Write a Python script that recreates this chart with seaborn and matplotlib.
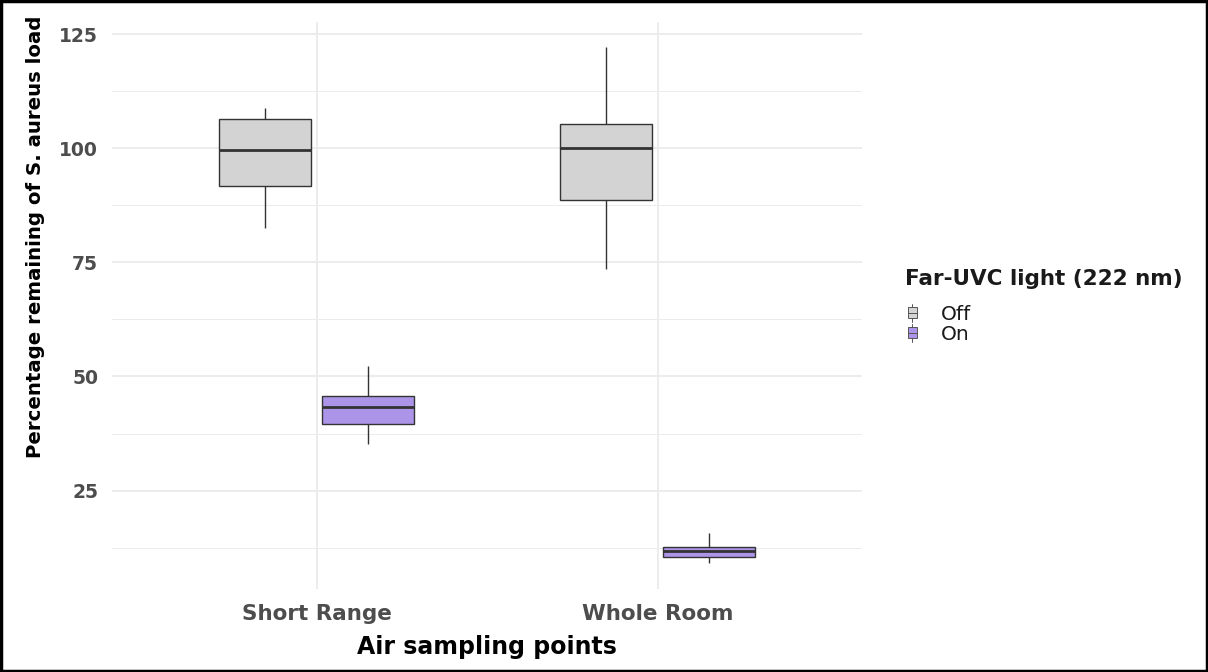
import pandas as pd
import matplotlib
matplotlib.use("Agg")
import matplotlib.pyplot as plt
import seaborn as sns
from matplotlib.legend_handler import HandlerBase
from matplotlib.patches import Rectangle
from matplotlib.lines import Line2D

# ------------------------------------------------------------
# Dados (min, Q1, mediana, Q3, max)
# ------------------------------------------------------------
pontos = ["Short Range", "Whole Room"]
luz = ["Off", "On"]

short_off = [82.5, 91.7, 99.6, 106.5, 108.9]
short_on = [35.3, 39.7, 43.3, 45.7, 52.2]
whole_off = [73.5, 88.6, 100.0, 105.4, 122.1]
whole_on = [9.1, 10.5, 11.7, 12.7, 15.7]

cores = {"Off": "#D3D3D3", "On": "#A687F7"}

linhas = []
for ponto, estado, vals in [
    ("Short Range", "Off", short_off),
    ("Short Range", "On", short_on),
    ("Whole Room", "Off", whole_off),
    ("Whole Room", "On", whole_on),
]:
    for v in vals:
        linhas.append({"ponto": ponto, "luz": estado, "valor": v})
df = pd.DataFrame(linhas)

# ------------------------------------------------------------
# Estilo
# ------------------------------------------------------------
sns.set_theme(style="whitegrid")
plt.rcParams["font.family"] = ["DejaVu Sans"]


class MiniBox(HandlerBase):
    # chave de legenda no estilo ggplot (caixinha com bigodes)
    def create_artists(self, legend, orig_handle, xdescent, ydescent,
                       width, height, fontsize, trans):
        cor = orig_handle.get_facecolor()
        bw = fontsize * 0.45
        x0 = -xdescent + fontsize * 0.08
        cx = x0 + bw / 2
        y0 = -ydescent
        r = Rectangle((x0, y0 + height * 0.2), bw, height * 0.6,
                      facecolor=cor, edgecolor="#555555", linewidth=0.7, transform=trans)
        med = Line2D([x0, x0 + bw], [y0 + height / 2] * 2,
                     color="#555555", linewidth=0.7, transform=trans)
        w1 = Line2D([cx, cx], [y0, y0 + height * 0.2],
                    color="#555555", linewidth=0.7, transform=trans)
        w2 = Line2D([cx, cx], [y0 + height * 0.8, y0 + height],
                    color="#555555", linewidth=0.7, transform=trans)
        return [r, med, w1, w2]


fig = plt.figure(figsize=(12.08, 6.72), dpi=100)
ax = fig.add_axes([0.0927, 0.1235, 0.621, 0.8445])

sns.boxplot(
    data=df, x="ponto", y="valor", hue="luz",
    order=pontos, hue_order=luz, palette=cores,
    width=0.6, gap=0.1, whis=1.5, showcaps=False,
    linecolor="#333333", linewidth=1,
    medianprops={"linewidth": 2},
    ax=ax,
)

ax.set_xlim(-0.6, 1.6)
ax.set_ylim(3.45, 127.75)
ax.set_yticks([25, 50, 75, 100, 125])
ax.set_yticks([12.5, 37.5, 62.5, 87.5, 112.5], minor=True)
ax.set_facecolor("white")
ax.grid(True, which="major", color="#EBEBEB", linewidth=1.3)
ax.grid(True, which="minor", axis="y", color="#EBEBEB", linewidth=0.7)
ax.set_axisbelow(True)
for s in ax.spines.values():
    s.set_visible(False)
ax.tick_params(axis="both", which="both", length=0)
ax.tick_params(axis="y", pad=10)
ax.tick_params(axis="x", pad=11)
for lab in ax.get_yticklabels():
    lab.set_fontweight("bold")
    lab.set_color("#4D4D4D")
    lab.set_fontsize(13.5)
for lab in ax.get_xticklabels():
    lab.set_fontweight("bold")
    lab.set_color("#4D4D4D")
    lab.set_fontsize(15.5)

ax.set_xlabel("Air sampling points", fontsize=17, fontweight="bold", color="black", labelpad=8)
ax.set_ylabel("Percentage remaining of S. aureus load", fontsize=14.2, fontweight="bold",
              color="black", labelpad=10, y=0.62)

handles, labels = ax.get_legend_handles_labels()
ax.legend_.remove()

# título da legenda separado, para controlar o espaço
fig.text(905 / 1208, 1 - 279 / 672, "Far-UVC light (222 nm)", fontsize=15.5,
         fontweight="bold", color="#1A1A1A", ha="left", va="center")
leg = fig.legend(
    handles, labels,
    loc="upper left", bbox_to_anchor=(0.735, 0.575),
    frameon=False, handler_map={h: MiniBox() for h in handles},
    fontsize=14.5,
    handlelength=0.75, handleheight=1.0, handletextpad=1.0, labelspacing=0.0,
)
for t in leg.get_texts():
    t.set_color("#1A1A1A")

# borda preta em volta da figura
fig.patches.append(Rectangle((0.001, 0.001), 0.998, 0.997, transform=fig.transFigure,
                             fill=False, edgecolor="black", linewidth=2.5))

fig.savefig("out.png", dpi=100, facecolor="white")
